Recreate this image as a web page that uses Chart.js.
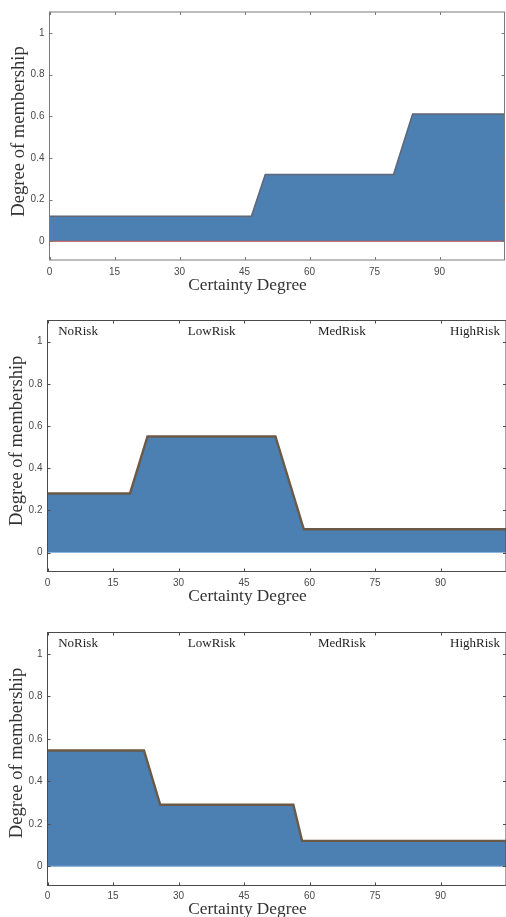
<!DOCTYPE html>
<html>
<head>
<meta charset="utf-8">
<script src="https://cdn.jsdelivr.net/npm/chart.js@4/dist/chart.umd.min.js"></script>
<style>
  html, body { margin: 0; padding: 0; background: #fff; }
  body { width: 506px; height: 917px; position: relative; overflow: hidden; }
  canvas { position: absolute; left: 0; }
</style>
</head>
<body>
<canvas id="c1" width="506" height="300" style="top:0px"></canvas>
<canvas id="c2" width="506" height="310" style="top:300px"></canvas>
<canvas id="c3" width="506" height="307" style="top:610px"></canvas>
<script>
// values
const xTicks = [0, 15, 30, 45, 60, 75, 90];
const yTicks = [0, 0.2, 0.4, 0.6, 0.8, 1];
const riskLabels = ['NoRisk', 'LowRisk', 'MedRisk', 'HighRisk'];
const riskAt = [7, 37.6, 67.4, 97.9];

const x1 = [0, 46.6, 49.8, 79.4, 83.8, 105];
const y1 = [0.12, 0.12, 0.32, 0.32, 0.61, 0.61];

const x2 = [0, 18.9, 22.9, 52.2, 58.7, 105];
const y2 = [0.28, 0.28, 0.55, 0.55, 0.11, 0.11];

const x3 = [0, 22.1, 25.8, 56.3, 58.3, 105];
const y3 = [0.545, 0.545, 0.29, 0.29, 0.12, 0.12];

const xMin = 0, xMax = 105, yMin = -0.09, yMax = 1.1;

const frame = {
  id: 'frame',
  afterDraw(chart, args, o) {
    const { ctx, chartArea: a, scales: { x, y } } = chart;
    ctx.save();
    ctx.strokeStyle = o.color;
    ctx.lineWidth = 1;
    ctx.strokeRect(a.left, a.top, a.right - a.left, a.bottom - a.top);
    ctx.beginPath();
    xTicks.forEach(v => {
      const px = Math.round(x.getPixelForValue(v)) + 0.5;
      ctx.moveTo(px, a.top); ctx.lineTo(px, a.top + 3);
      ctx.moveTo(px, a.bottom); ctx.lineTo(px, a.bottom - 3);
    });
    yTicks.forEach(v => {
      const py = Math.round(y.getPixelForValue(v)) + 0.5;
      ctx.moveTo(a.left, py); ctx.lineTo(a.left + 3, py);
      ctx.moveTo(a.right, py); ctx.lineTo(a.right - 3, py);
    });
    ctx.stroke();

    ctx.textAlign = 'center';
    ctx.textBaseline = 'middle';
    if (o.risk) {
      ctx.fillStyle = '#222';
      ctx.font = '13px "Liberation Serif"';
      riskLabels.forEach((t, i) => ctx.fillText(t, x.getPixelForValue(riskAt[i]), a.top + 11));
    }
    ctx.fillStyle = '#333';
    ctx.font = '17.3px "Liberation Serif"';
    ctx.fillText('Certainty Degree', o.xTitle[0], o.xTitle[1]);
    ctx.translate(o.yTitle[0], o.yTitle[1]);
    ctx.rotate(-Math.PI / 2);
    ctx.font = '18.6px "Liberation Serif"';
    ctx.fillText('Degree of membership', 0, 0);
    ctx.restore();
  }
};

const tickFont = { family: '"Liberation Sans"', size: 10 };

function makeChart(id, xs, ys, s) {
  const pts = xs.map((v, i) => ({ x: v, y: ys[i] }));
  return new Chart(document.getElementById(id), {
    type: 'line',
    data: {
      datasets: [
        {
          data: [{ x: xMin, y: 0 }, { x: xMax, y: 0 }],
          borderColor: s.base, borderWidth: 1.2, pointRadius: 0, fill: false, order: 0
        },
        {
          data: pts, borderColor: s.line, borderWidth: s.lineWidth,
          backgroundColor: '#4c7fb2', fill: 'origin',
          pointRadius: 0, tension: 0, order: 1
        }
      ]
    },
    options: {
      responsive: false,
      animation: false,
      devicePixelRatio: 1,
      layout: { padding: { left: 0, top: s.top, right: s.right, bottom: 0 } },
      plugins: {
        legend: { display: false }, tooltip: { enabled: false },
        frame: { color: s.frame, risk: s.risk, xTitle: s.xTitle, yTitle: s.yTitle }
      },
      scales: {
        x: {
          type: 'linear', min: xMin, max: xMax,
          afterBuildTicks: sc => { sc.ticks = xTicks.map(v => ({ value: v })); },
          afterFit: sc => { sc.height = s.xh; },
          grid: { display: false, drawTicks: false }, border: { display: false },
          ticks: { font: tickFont, color: '#4a4a4a', padding: s.xpad, maxRotation: 0, autoSkip: false,
                   callback: v => String(v) }
        },
        y: {
          min: yMin, max: yMax,
          afterBuildTicks: sc => { sc.ticks = yTicks.map(v => ({ value: v })); },
          afterFit: sc => { sc.width = s.yw; },
          grid: { display: false, drawTicks: false }, border: { display: false },
          ticks: { font: tickFont, color: '#4a4a4a', padding: 5, autoSkip: false,
                   callback: v => String(v) }
        }
      }
    },
    plugins: [frame]
  });
}

makeChart('c1', x1, y1, {
  top: 12, right: 1.5, yw: 49.5, xh: 40, xpad: 6,
  line: '#5f6878', lineWidth: 1.6, base: '#c0504d', frame: '#7a7a7a', risk: false,
  xTitle: [247.5, 285], yTitle: [19, 131.5]
});
makeChart('c2', x2, y2, {
  top: 20.5, right: 0, yw: 47.5, xh: 38.5, xpad: 6,
  line: '#6b5a48', lineWidth: 2.4, base: '#8fb4dc', frame: '#4a4a4a', risk: true,
  xTitle: [247.5, 296.7], yTitle: [17.5, 140.8]
});
makeChart('c3', x3, y3, {
  top: 22.5, right: 0, yw: 47.5, xh: 31.5, xpad: 5,
  line: '#6b5a48', lineWidth: 2.4, base: '#8fb4dc', frame: '#4a4a4a', risk: true,
  xTitle: [247.5, 299.5], yTitle: [17.5, 143]
});
</script>
</body>
</html>
